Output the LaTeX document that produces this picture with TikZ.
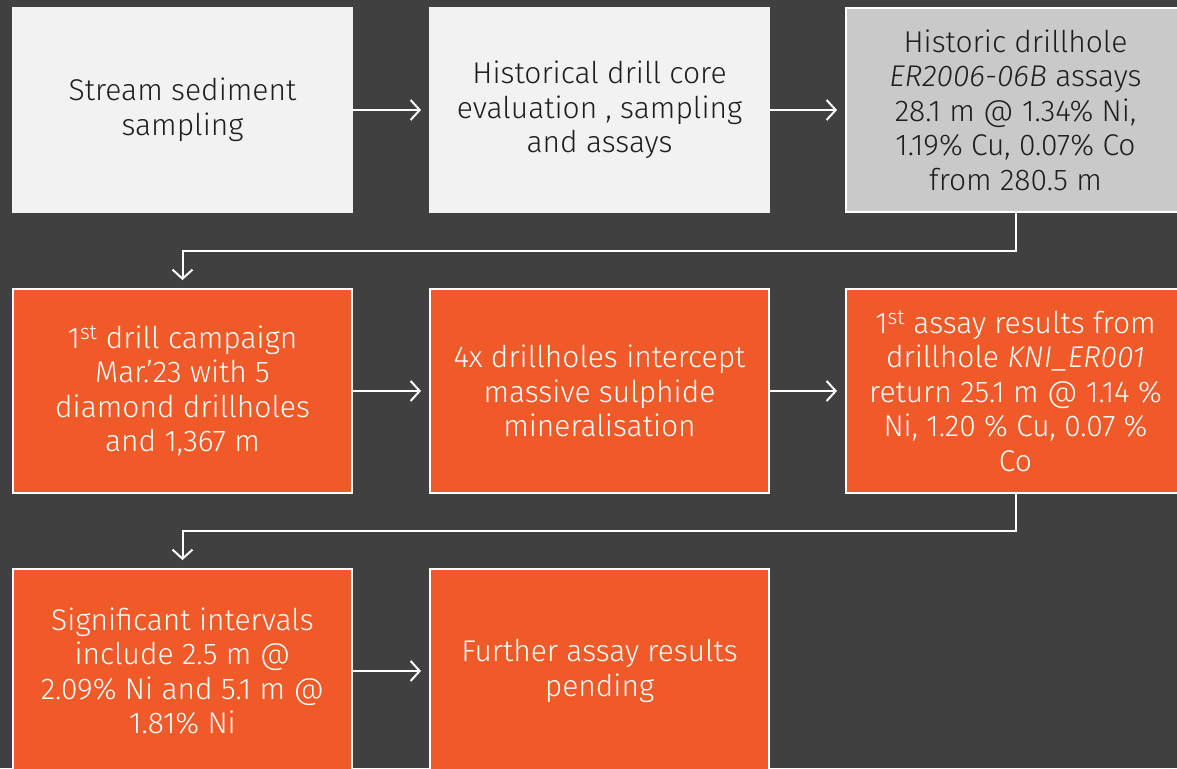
\documentclass[tikz,border=0pt]{standalone}
\usepackage{fontspec}
\setmainfont{Fira Sans}[UprightFont=* Light, ItalicFont=* Light Italic]
\usetikzlibrary{arrows.meta}
\definecolor{bgc}{HTML}{404040}
\definecolor{lightbox}{HTML}{F2F2F2}
\definecolor{graybox}{HTML}{C9C9C9}
\definecolor{orangebox}{HTML}{F05A28}
\definecolor{darktext}{HTML}{1E1E1E}
\tikzset{
  box/.style={rectangle, draw=white, line width=2pt, minimum width=339pt, minimum height=204pt,
    align=center, font=\fontsize{30}{34.5}\selectfont, inner sep=0pt},
  lbox/.style={box, fill=lightbox, draw=lightbox, text=darktext},
  gbox/.style={box, fill=graybox, text=darktext},
  obox/.style={box, fill=orangebox, text=white},
  arr/.style={draw=white, line width=2pt, -{Straight Barb[length=9pt,width=20pt,line width=2pt]}, shorten >=8pt},
}
\begin{document}
\begin{tikzpicture}[x=1pt,y=-1pt]
\useasboundingbox (0,0) rectangle (1177,768);
\clip (0,0) rectangle (1177,768);
\fill[bgc] (0,0) rectangle (1177,768);
\node[lbox] (a) at (182.5,110) {Stream sediment\\sampling};
\node[lbox] (b) at (599.5,110) {Historical drill core\\evaluation , sampling\\and assays};
\node[gbox] (c) at (1015.5,110) {Historic drillhole\\\textit{ER2006-06B} assays\\28.1 m @ 1.34\% Ni,\\1.19\% Cu, 0.07\% Co\\from 280.5 m};
\node[obox] (d) at (182.5,391) {1\textsuperscript{st} drill campaign\\Mar.'23 with 5\\diamond drillholes\\and 1,367 m};
\node[obox] (e) at (599.5,391) {4x drillholes intercept\\massive sulphide\\mineralisation};
\node[obox] (f) at (1015.5,391) {1\textsuperscript{st} assay results from\\drillhole \textit{KNI\_ER001}\\return 25.1 m @ 1.14 \%\\Ni, 1.20 \% Cu, 0.07 \%\\Co};
\node[obox] (g) at (182.5,671) {Significant intervals\\include 2.5 m @\\2.09\% Ni and 5.1 m @\\1.81\% Ni};
\node[obox] (h) at (599.5,671) {Further assay results\\pending};
\draw[arr] (a) -- (b);
\draw[arr] (b) -- (c);
\draw[arr] (d) -- (e);
\draw[arr] (e) -- (f);
\draw[arr] (g) -- (h);
\draw[arr] (c.south) -- ++(0,38) -| (d.north);
\draw[arr] (f.south) -- ++(0,37) -| (g.north);
\end{tikzpicture}
\end{document}
